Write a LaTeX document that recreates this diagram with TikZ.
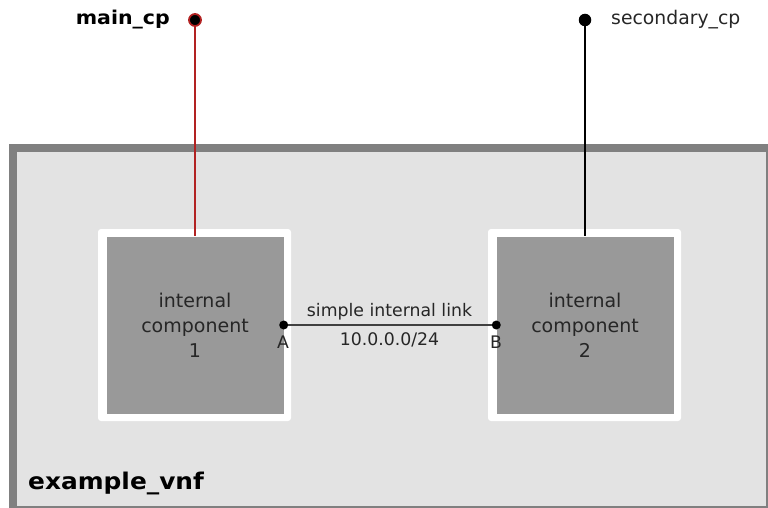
\documentclass[tikz,border=0pt]{standalone}
\usepackage{fontspec}
\setmainfont{DejaVu Sans}
\newfontfamily\widebold[FakeStretch=1.08]{DejaVu Sans Bold}
\definecolor{vnfbg}{HTML}{E3E3E3}
\definecolor{vnfedge}{HTML}{808080}
\definecolor{compfill}{HTML}{999999}
\definecolor{cpred}{HTML}{B22222}
\begin{document}
\begin{tikzpicture}[x=1pt,y=-1pt,
  comptext/.style={align=center,font=\fontsize{19}{25}\selectfont,text=black!85},
  portdot/.style={circle,fill=black,inner sep=0pt,minimum size=9pt},
  lbl/.style={font=\fontsize{17.3}{20}\selectfont,text=black!85}]
\useasboundingbox (0,0) rectangle (768,508);
% vnf container: heavy top/left edge, thin right/bottom edge
\fill[vnfedge] (9,144) rectangle (768,508);
\fill[vnfbg] (17,152) rectangle (766,506);
\node[anchor=south west,inner sep=0pt,font=\widebold\fontsize{23}{26}\selectfont] (vnfname) at (28,495) {example\_vnf};
% internal components
\fill[white,rounded corners=3pt] (98,229) rectangle (291,421);
\node[fill=compfill,minimum width=177pt,minimum height=177pt,inner sep=0pt] (c1) at (195,325) {};
\node[comptext] at (c1) {internal\\component\\1};
\fill[white,rounded corners=3pt] (488,229) rectangle (681,421);
\node[fill=compfill,minimum width=177pt,minimum height=177pt,inner sep=0pt] (c2) at (585,325) {};
\node[comptext] at (c2) {internal\\component\\2};
% connection points
\coordinate (mcp) at (195,20);
\coordinate (scp) at (585,20);
\draw[cpred,line width=1.5pt] (mcp) -- (c1.north);
\draw[black,line width=1.5pt] (scp) -- (c2.north);
\node[circle,fill=black,draw=cpred,line width=1.8pt,inner sep=0pt,minimum size=12pt] (mdot) at (mcp) {};
\node[portdot,minimum size=12.5pt] (sdot) at (scp) {};
\node[anchor=east,inner sep=0pt,font=\widebold\fontsize{19}{22}\selectfont] (mname) at (170,20) {main\_cp};
\node[anchor=west,inner sep=0pt,font=\fontsize{18.8}{22}\selectfont,text=black!85] (sname) at (611,20) {secondary\_cp};
% internal link
\node[portdot] (pa) at (c1.east) {};
\node[portdot] (pb) at (c2.west) {};
\draw[black!75,line width=1.3pt] (pa) -- (pb);
\node[lbl] at (283,342) {A};
\node[lbl] at (496,342) {B};
\node[lbl] at (389.5,312) {simple internal link};
\node[lbl] at (389.5,340) {10.0.0.0/24};
\end{tikzpicture}
\end{document}
